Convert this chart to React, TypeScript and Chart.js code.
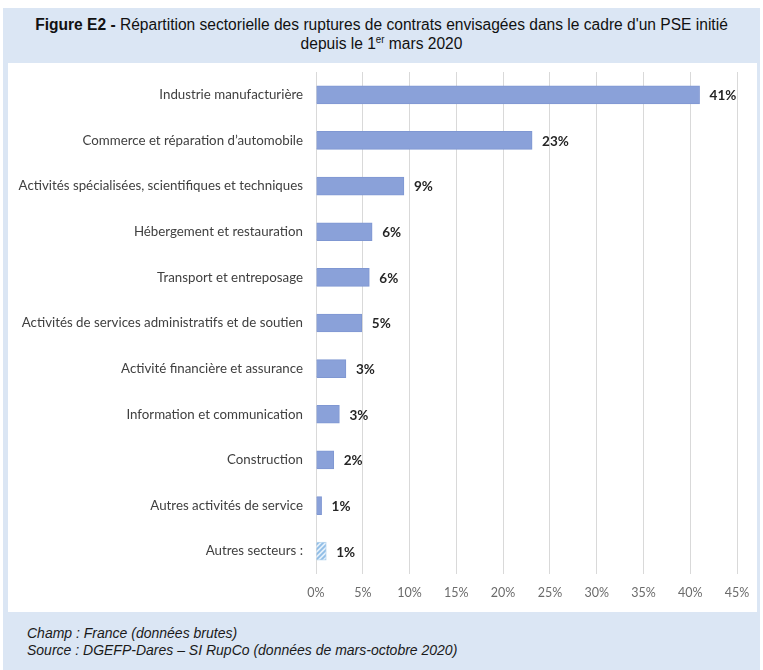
import React, { useEffect, useRef } from "react";
import { Chart, registerables } from "chart.js";

Chart.register(...registerables);

const categories = [
  "Industrie manufacturière",
  "Commerce et réparation d’automobile",
  "Activités spécialisées, scientifiques et techniques",
  "Hébergement et restauration",
  "Transport et entreposage",
  "Activités de services administratifs et de soutien",
  "Activité financière et assurance",
  "Information et communication",
  "Construction",
  "Autres activités de service",
  "Autres secteurs :",
];
const values = [41, 23.1, 9.4, 6.0, 5.7, 4.9, 3.2, 2.5, 1.9, 0.6, 1.1];
const valueLabels = ["41%", "23%", "9%", "6%", "6%", "5%", "3%", "3%", "2%", "1%", "1%"];
const hatched = [false, false, false, false, false, false, false, false, false, false, true];
const xTicks = [0, 5, 10, 15, 20, 25, 30, 35, 40, 45];

const BAR = "#8aa1d9";
const HATCH = "#8fbde6";

function makeHatch(): CanvasPattern | string {
  const c = document.createElement("canvas");
  c.width = 5;
  c.height = 5;
  const g = c.getContext("2d");
  if (!g) return HATCH;
  g.fillStyle = "#e4f0fa";
  g.fillRect(0, 0, 5, 5);
  g.strokeStyle = HATCH;
  g.lineWidth = 1.8;
  g.beginPath();
  g.moveTo(-1, 6);
  g.lineTo(6, -1);
  g.moveTo(-1, 1);
  g.lineTo(1, -1);
  g.moveTo(4, 6);
  g.lineTo(6, 4);
  g.stroke();
  return g.createPattern(c, "repeat") || HATCH;
}

const labelPlugin = {
  id: "valueLabels",
  afterDatasetsDraw(chart: any) {
    const ctx = chart.ctx;
    const meta = chart.getDatasetMeta(0);
    ctx.save();
    ctx.font = "bold 13.5px Lato, 'Open Sans', sans-serif";
    ctx.fillStyle = "#262626";
    ctx.textBaseline = "middle";
    ctx.textAlign = "left";
    meta.data.forEach((bar: any, i: number) => {
      ctx.fillText(valueLabels[i], bar.x + 10, bar.y + 1);
    });
    ctx.restore();
  },
};

export default function App() {
  const ref = useRef<HTMLCanvasElement | null>(null);

  useEffect(() => {
    document.body.style.margin = "0";
    if (!ref.current) return;
    const pattern = makeHatch();
    const chart = new Chart(ref.current, {
      type: "bar",
      data: {
        labels: categories,
        datasets: [
          {
            data: values,
            backgroundColor: hatched.map((h) => (h ? pattern : BAR)),
            borderColor: hatched.map((h) => (h ? "#b9d6ef" : "#7f97d2")),
            borderWidth: 1,
            barThickness: 18,
          },
        ],
      },
      options: {
        indexAxis: "y",
        animation: false,
        responsive: false,
        maintainAspectRatio: false,
        layout: { padding: { top: 9, right: 20, bottom: 0, left: 0 } },
        plugins: {
          legend: { display: false },
          tooltip: { enabled: false },
        },
        scales: {
          x: {
            min: 0,
            max: 45,
            afterBuildTicks: (scale: any) => {
              scale.ticks = xTicks.map((v) => ({ value: v }));
            },
            afterFit: (scale: any) => {
              scale.height = 38;
              scale.paddingLeft = 0;
              scale.paddingRight = 0;
            },
            grid: { color: "#d9d9d9", lineWidth: 1, drawTicks: false },
            border: { display: false },
            ticks: {
              padding: 11,
              color: "#6b6b6b",
              font: { family: "Lato, 'Open Sans', sans-serif", size: 12.5 },
              callback: (v: any) => v + "%",
            },
          },
          y: {
            afterFit: (scale: any) => {
              scale.width = 308;
              scale.paddingTop = 0;
              scale.paddingBottom = 0;
            },
            grid: { display: false, drawTicks: false },
            border: { display: false },
            ticks: {
              padding: 13,
              color: "#404040",
              font: { family: "Lato, 'Open Sans', sans-serif", size: 13.3 },
            },
          },
        },
      },
      plugins: [labelPlugin],
    });
    return () => chart.destroy();
  }, []);

  const sans = "'Liberation Sans', Arial, sans-serif";

  return (
    <div style={{ position: "relative", width: 763, height: 670, background: "#ffffff", overflow: "hidden" }}>
      <div
        style={{
          position: "absolute",
          left: 3,
          top: 8,
          width: 757,
          height: 662,
          background: "#dbe6f4",
        }}
      />
      <div
        style={{
          position: "absolute",
          left: 0,
          top: 15,
          width: 763,
          textAlign: "center",
          fontFamily: sans,
          fontSize: 16,
          lineHeight: "19px",
          color: "#111",
          transform: "scaleX(0.973)",
          transformOrigin: "381px 0",
        }}
      >
        <div>
          <b>Figure E2 -</b> Répartition sectorielle des ruptures de contrats envisagées dans le cadre d'un PSE initié
        </div>
        <div>
          depuis le 1<sup style={{ fontSize: 10, lineHeight: 0 }}>er</sup> mars 2020
        </div>
      </div>
      <div
        style={{
          position: "absolute",
          left: 8,
          top: 63,
          width: 749,
          height: 549,
          background: "#ffffff",
        }}
      >
        <canvas ref={ref} width={749} height={549} style={{ display: "block", width: 749, height: 549 }} />
      </div>
      <div
        style={{
          position: "absolute",
          left: 27,
          top: 625,
          fontFamily: sans,
          fontStyle: "italic",
          fontSize: 14,
          lineHeight: "17px",
          color: "#1a1a1a",
          whiteSpace: "nowrap",
        }}
      >
        <div>Champ : France (données brutes)</div>
        <div>Source : DGEFP-Dares – SI RupCo (données de mars-octobre 2020)</div>
      </div>
    </div>
  );
}
